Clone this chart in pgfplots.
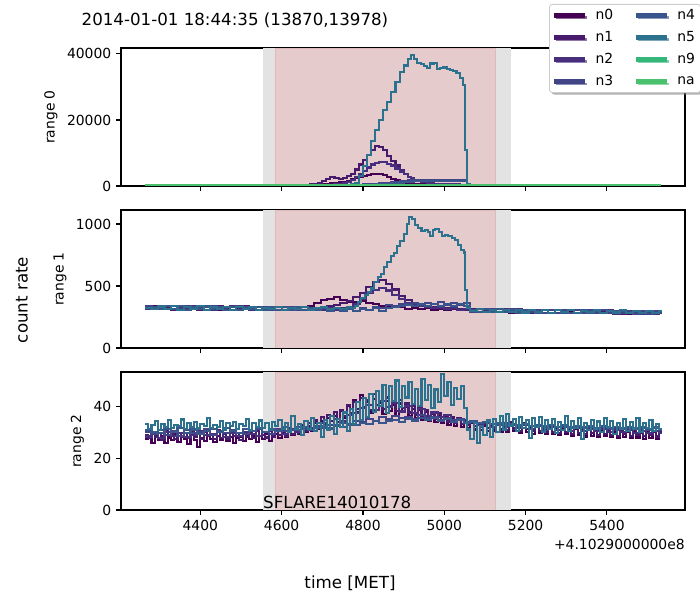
\documentclass[border=0pt]{standalone}
\usepackage{pgfplots}
\pgfplotsset{compat=1.18}
\usepackage{pgfplotstable}
\usepackage{fontspec}
\setmainfont{DejaVu Sans}
\usetikzlibrary{shadows}

\definecolor{cn0}{HTML}{440154}
\definecolor{cn1}{HTML}{481A6C}
\definecolor{cn2}{HTML}{472F7D}
\definecolor{cn3}{HTML}{414487}
\definecolor{cn4}{HTML}{39568C}
\definecolor{cn5}{HTML}{2C728E}
\definecolor{cn9}{HTML}{35B779}
\definecolor{cna}{HTML}{4AC16D}
\definecolor{shadegray}{HTML}{E3E3E3}
\definecolor{shadepink}{HTML}{E6CBCD}
\definecolor{pinkedge}{HTML}{E0B9BB}
\definecolor{legframe}{HTML}{CCCCCC}

\pgfplotstableread{
t n0 n1 n2 n3 n4 n5
4265 150 200 150 150 150 200
4650 150 200 150 150 150 200
4660 150 300 150 150 150 200
4670 160 450 150 150 150 200
4680 200 700 160 150 150 200
4690 300 1000 180 150 150 200
4700 500 1400 220 150 150 200
4710 700 2000 300 150 150 200
4720 900 2700 400 160 150 220
4730 1000 2500 500 170 160 240
4740 1100 2100 600 180 160 260
4750 1300 2400 800 200 170 280
4760 1600 2900 1200 250 180 300
4770 2000 3600 1800 300 200 500
4780 2400 5000 2600 350 220 1000
4790 2800 6500 3500 400 250 3000
4800 3100 8000 4600 450 280 6000
4810 3400 9500 5600 500 320 9500
4820 3500 11000 6500 550 380 13500
4830 3600 12100 7100 650 450 17000
4840 3500 11800 7400 750 520 20000
4850 3200 10800 7200 850 600 23000
4860 2700 9200 6800 1000 700 25500
4870 2200 7600 6200 1150 800 28500
4880 1700 6200 5300 1300 900 31500
4890 1300 4800 4400 1450 1050 34500
4900 1000 3600 3500 1600 1200 36500
4910 800 2700 2700 1700 1300 38500
4918 700 2300 2400 1750 1350 39600
4926 650 1900 1950 1780 1380 38600
4934 550 1600 1600 1800 1400 37200
4942 500 1300 1300 1850 1420 36900
4950 480 1100 1100 1870 1450 36400
4958 420 900 900 1880 1480 35700
4966 400 700 800 1900 1500 37100
4974 380 600 700 1900 1500 37300
4982 350 500 650 1900 1500 35300
4990 330 450 600 1900 1500 35800
4998 320 420 550 1890 1490 35900
5006 310 400 520 1880 1480 35400
5014 300 380 500 1870 1470 35200
5022 290 370 480 1860 1460 34700
5030 280 360 460 1850 1450 34100
5038 270 350 440 1840 1440 32600
5046 260 340 420 1820 1420 30600
5052 250 330 400 1800 1400 11000
5056 200 250 200 200 200 600
5062 150 200 150 150 150 200
5533 150 200 150 150 150 200
}\topdata

\pgfplotstableread{
t n0 n1 n2 n3 n4
4264 318 334 312 338 326
4280 335 314 330 316 334
4296 312 340 318 333 311
4312 331 320 338 313 337
4328 339 309 315 336 318
4344 308 336 333 314 340
4360 328 316 311 339 309
4376 315 338 335 317 331
4392 336 306 313 334 316
4408 305 331 336 310 335
4424 330 311 309 337 312
4440 310 335 332 312 333
4456 334 307 314 331 310
4472 307 333 337 309 334
4488 327 312 310 335 308
4504 313 336 331 311 330
4520 332 305 308 332 313
4536 304 330 333 308 332
4552 326 309 306 334 307
4568 309 334 329 306 329
4584 330 306 310 330 310
4600 303 328 331 307 331
4616 325 308 305 329 306
4632 306 331 327 304 327
4648 327 304 309 328 308
4664 338 318 304 306 326
4680 360 310 322 303 305
4696 384 326 306 324 323
4712 398 338 324 304 302
4728 408 350 305 322 321
4744 390 366 326 303 301
4760 374 382 334 320 318
4776 368 408 356 302 300
4792 378 442 394 319 317
4808 360 490 440 306 303
4824 352 534 470 330 320
4840 342 548 484 322 302
4856 338 516 464 344 326
4872 328 472 426 340 334
4888 330 422 394 358 336
4904 318 384 366 352 348
4920 322 356 350 366 342
4936 312 344 336 350 356
4952 320 330 334 366 342
4968 310 328 322 352 358
4984 318 320 326 368 340
5000 308 322 314 350 356
5016 316 312 320 364 338
5032 306 316 310 348 354
5048 314 306 315 362 340
5064 296 314 302 292 310
5080 312 294 316 312 289
5096 291 311 297 290 313
5112 310 290 314 311 292
5128 289 313 292 288 311
5144 308 287 311 309 288
5160 286 310 290 313 309
5176 307 288 312 286 287
5192 285 309 288 310 308
5208 306 284 310 287 306
5224 287 307 286 308 286
5240 304 283 309 284 307
5256 283 306 285 307 284
5272 303 285 307 283 305
5288 282 305 283 306 285
5304 302 281 306 284 304
5320 280 304 282 305 283
5336 301 282 305 281 303
5352 281 303 280 304 282
5368 300 279 304 282 302
5384 279 302 281 303 280
5400 299 280 303 279 301
5416 280 301 278 302 281
5432 298 278 302 280 300
5448 277 300 279 301 279
5464 297 279 300 278 299
5480 278 299 277 300 280
5496 296 277 299 278 298
5512 279 298 278 299 279
5528 295 280 297 279 297
5536 295 280 297 279 297
}\middata

\pgfplotstableread{
t n2 n3 n4
4264 28.5 30.2 31.0
4280 29.6 29.5 30.4
4296 28.0 31.0 29.8
4312 30.3 29.1 31.5
4328 28.7 30.6 30.2
4344 29.9 28.8 31.8
4360 28.4 30.9 30.0
4376 29.2 29.7 31.2
4392 30.5 30.1 29.6
4408 28.9 31.3 30.8
4424 29.4 29.2 31.4
4440 30.8 30.5 30.3
4456 28.3 29.8 31.9
4472 29.7 31.1 30.5
4488 28.6 30.0 29.9
4504 30.1 29.4 31.3
4520 29.3 30.8 30.6
4536 28.8 31.6 31.7
4552 30.4 30.2 30.1
4568 29.6 29.6 31.2
4584 30.9 31.4 30.7
4600 29.5 30.7 32.0
4616 31.2 31.0 31.1
4632 30.4 32.2 30.9
4648 32.0 31.5 32.3
4664 31.6 30.9 31.0
4680 32.7 32.6 31.8
4696 33.9 31.8 32.5
4712 33.1 33.0 31.6
4728 35.4 32.4 32.9
4744 34.6 33.6 32.2
4760 36.8 33.1 33.4
4776 37.5 34.5 32.8
4792 39.6 34.0 33.7
4808 40.8 35.2 33.3
4824 38.9 34.6 34.4
4840 42.3 35.9 33.9
4856 40.1 35.1 34.6
4872 41.6 36.3 35.0
4888 38.2 35.5 34.2
4904 40.4 36.0 35.3
4920 37.6 35.4 34.7
4936 39.3 36.8 35.5
4952 36.5 35.8 34.9
4968 37.8 36.2 35.6
4984 35.9 35.0 34.5
5000 36.7 35.6 35.2
5016 34.4 34.8 34.1
5032 35.2 35.3 34.8
5048 33.6 34.2 33.9
5064 34.5 34.6 34.3
5080 32.9 33.7 33.6
5096 33.8 34.1 34.0
5112 32.2 33.5 33.2
5128 33.4 32.9 33.7
5144 32.0 33.6 32.9
5160 33.1 33.0 33.4
5176 31.7 32.5 32.8
5192 32.8 33.2 33.3
5208 31.5 32.4 32.6
5224 32.6 33.0 33.1
5240 31.2 32.2 32.4
5256 32.3 32.8 33.0
5272 31.0 32.1 32.3
5288 32.0 32.7 32.9
5304 30.8 31.9 32.2
5320 31.9 32.5 32.7
5336 30.6 31.8 32.0
5352 31.6 32.3 32.6
5368 30.5 31.6 31.9
5384 31.4 32.2 32.4
5400 30.3 31.5 31.8
5416 31.2 32.0 32.3
5432 30.1 31.4 31.7
5448 31.0 31.9 32.2
5464 29.9 31.3 31.6
5480 30.8 31.8 32.1
5496 29.8 31.2 31.5
5512 30.6 31.7 32.0
5528 29.7 31.1 31.4
5536 29.7 31.1 31.4
}\botdataA

\pgfplotstableread{
t n0 n1 n5
4264 27.4 29.1 33.2
4272 28.6 27.8 31.5
4280 26.1 30.2 32.8
4288 29.0 28.5 34.6
4296 27.2 29.7 31.0
4304 28.8 27.3 33.5
4312 25.9 30.6 32.1
4320 28.1 28.9 34.9
4328 27.0 29.4 31.7
4336 29.3 27.6 33.0
4344 26.5 30.0 32.4
4352 28.3 28.2 35.1
4360 27.7 29.8 31.3
4368 25.6 27.9 33.8
4376 28.9 30.7 32.0
4384 27.3 28.4 34.2
4392 24.6 29.3 31.6
4400 28.0 27.5 33.4
4408 26.8 30.4 32.7
4416 29.1 28.6 35.8
4424 27.5 29.5 31.9
4432 26.2 27.7 33.1
4440 28.7 30.9 32.3
4448 27.1 28.0 34.4
4456 29.4 29.6 31.2
4464 26.7 27.4 33.7
4472 28.2 30.3 32.5
4480 25.8 28.7 34.0
4488 27.9 29.9 31.4
4496 28.5 27.2 33.3
4504 26.9 30.1 32.6
4512 29.2 28.3 35.4
4520 27.4 29.7 31.1
4528 28.6 27.9 33.9
4536 26.3 30.5 32.2
4544 28.8 28.8 34.7
4552 27.6 29.2 31.8
4560 29.5 28.1 33.6
4568 26.8 30.8 30.9
4576 28.4 28.5 34.1
4584 29.6 31.0 32.4
4592 27.8 29.2 35.0
4600 30.1 30.7 31.5
4608 28.2 28.6 33.8
4616 30.7 31.8 30.2
4624 28.9 29.4 36.3
4632 31.2 32.1 31.6
4640 29.5 30.0 33.2
4648 31.8 32.9 29.1
4656 30.2 30.8 34.5
4664 32.5 33.6 31.4
4672 30.6 31.4 35.8
4680 33.8 34.7 30.6
4688 31.5 32.6 33.7
4696 34.6 35.9 28.4
4704 32.3 33.2 34.9
4712 35.7 36.8 31.0
4720 33.1 34.5 36.6
4728 36.4 37.9 29.3
4736 34.2 35.3 35.2
4744 38.5 38.6 32.1
4752 35.6 36.4 37.8
4760 40.2 40.8 30.5
4768 36.9 37.7 39.2
4776 42.8 41.9 33.4
4784 38.1 39.3 41.7
4792 44.6 43.5 35.0
4800 39.6 40.1 43.5
4808 41.9 42.7 36.2
4816 37.8 38.9 44.8
4824 43.2 44.8 38.1
4832 38.7 40.6 46.3
4840 41.5 42.2 40.4
4848 37.2 39.1 48.5
4856 42.4 43.6 37.6
4864 38.5 40.3 47.9
4872 40.9 41.5 42.2
4880 36.6 38.4 50.2
4888 41.3 42.8 39.8
4896 37.9 39.6 48.1
4904 40.1 41.3 43.6
4912 36.4 37.8 49.7
4920 39.2 40.5 41.2
4928 35.7 37.0 46.9
4936 38.8 39.7 40.3
4944 35.1 36.4 50.8
4952 37.9 38.6 42.5
4960 34.6 35.8 48.3
4968 37.3 38.1 39.6
4976 34.0 35.2 46.7
4984 36.5 37.4 41.8
4992 33.6 34.9 52.8
5000 36.0 36.8 44.1
5008 33.1 34.3 49.6
5016 35.4 36.1 40.7
5024 32.7 33.9 47.4
5032 34.9 35.5 42.9
5040 32.2 33.4 48.2
5048 34.1 34.8 39.4
5056 31.8 33.0 31.2
5064 33.6 34.4 27.5
5072 31.2 32.7 33.9
5080 33.0 33.8 25.8
5088 30.9 32.1 32.6
5096 32.7 33.5 29.0
5104 30.5 31.8 34.7
5112 32.4 33.2 28.2
5120 30.8 31.5 35.3
5128 32.9 33.6 30.1
5136 30.3 31.2 36.4
5144 32.5 33.3 31.2
5152 30.1 31.0 37.1
5160 33.1 34.1 32.6
5168 30.7 31.6 35.4
5176 32.2 33.0 30.8
5184 29.9 30.8 36.2
5192 32.8 33.7 31.9
5200 30.4 31.3 34.8
5208 31.9 32.6 27.9
5216 29.6 30.5 35.7
5224 32.3 33.1 32.0
5232 29.8 30.7 36.0
5240 31.6 32.4 30.4
5248 29.3 30.2 34.9
5256 32.0 32.8 31.5
5264 29.5 30.4 35.3
5272 31.4 32.2 29.7
5280 28.9 29.8 34.2
5288 31.7 32.5 31.1
5296 29.4 30.3 36.6
5304 31.2 32.0 30.6
5312 28.7 29.6 34.5
5320 31.5 32.3 31.8
5328 29.0 29.9 35.6
5336 30.9 31.8 27.6
5344 28.5 29.4 33.9
5352 31.3 32.1 30.9
5360 28.8 29.7 35.0
5368 30.6 31.5 31.4
5376 28.3 29.2 34.3
5384 31.0 31.9 30.2
5392 28.6 29.5 35.8
5400 30.8 31.6 32.1
5408 28.2 29.1 34.6
5416 30.4 31.3 29.5
5424 27.9 28.8 33.7
5432 30.7 31.4 31.3
5440 28.4 29.3 35.2
5448 30.2 31.0 30.7
5456 27.8 28.7 34.0
5464 30.5 31.2 31.6
5472 28.1 29.0 35.5
5480 30.0 30.9 30.1
5488 27.6 28.6 33.8
5496 30.3 31.1 31.9
5504 28.0 28.9 34.8
5512 30.1 30.8 30.5
5520 27.7 28.5 33.5
5528 29.8 30.6 31.4
5536 29.8 30.6 31.4
}\botdataB

\pgfplotsset{
  panel/.style={
    scale only axis, width=406.08bp, height=99.36bp,
    xmin=4205, xmax=5592, ymin=0,
    xtick={4400,4600,4800,5000,5200,5400},
    scaled x ticks=false, scaled y ticks=false,
    /pgf/number format/1000 sep={},
    /pgf/number format/assume math mode=true,
    tick align=outside, xtick pos=lower, ytick pos=left,
    major tick length=3.5bp,
    tick style={black, line width=0.8bp},
    axis line style={line width=0.8bp},
    ticklabel style={font=\fontsize{10bp}{12bp}\selectfont},
    label style={font=\fontsize{10bp}{12bp}\selectfont},
    every axis plot/.append style={const plot, line width=1.5bp, mark=none},
    anchor=south west,
  },
}

\begin{document}
\begin{tikzpicture}
\path[use as bounding box] (0,0) rectangle (504bp,432bp);

% ---------- top panel ----------
\begin{axis}[panel, at={(87.12bp,298.08bp)}, ymax=41800,
  ytick={0,20000,40000}, xticklabels={}, ylabel={range 0},
  legend columns=4, transpose legend,
  legend style={at={(0.759,1.319)}, anchor=north west,
    font=\fontsize{10bp}{12bp}\selectfont,
    draw=legframe, line width=0.6bp, rounded corners=2bp, fill=white,
    drop shadow={shadow xshift=1.5bp, shadow yshift=-1.5bp, opacity=0.6, fill=gray},
    column sep=4.2bp, row sep=3bp, inner xsep=2bp, inner ysep=1.5bp,
    /tikz/every even column/.append style={column sep=13bp}},
  legend cell align=left,
  legend image code/.code={\draw[line width=3bp] (0bp,0bp) -- (22bp,0bp);},
]
\fill[shadegray] (axis cs:4554,0) rectangle (axis cs:5165,41800);
\fill[shadepink, draw=pinkedge, line width=0.5bp] (axis cs:4584,0) rectangle (axis cs:5125,41800);
\addplot[cn0] table[x=t,y=n0] {\topdata};
\addplot[cn1] table[x=t,y=n1] {\topdata};
\addplot[cn2] table[x=t,y=n2] {\topdata};
\addplot[cn3] table[x=t,y=n3] {\topdata};
\addplot[cn4] table[x=t,y=n4] {\topdata};
\addplot[cn5] table[x=t,y=n5] {\topdata};
\addplot[cn9] coordinates {(4265,300) (5533,300)};
\addplot[cna] coordinates {(4265,300) (5533,300)};
\legend{n0,n1,n2,n3,n4,n5,n9,na}
\end{axis}

% ---------- middle panel ----------
\begin{axis}[panel, at={(87.12bp,181.44bp)}, ymax=1113,
  ytick={0,500,1000}, xticklabels={}, ylabel={range 1}]
\fill[shadegray] (axis cs:4554,0) rectangle (axis cs:5165,1113);
\fill[shadepink, draw=pinkedge, line width=0.5bp] (axis cs:4584,0) rectangle (axis cs:5125,1113);
\addplot[cn0] table[x=t,y=n0] {\middata};
\addplot[cn1] table[x=t,y=n1] {\middata};
\addplot[cn2] table[x=t,y=n2] {\middata};
\addplot[cn3] table[x=t,y=n3] {\middata};
\addplot[cn4] table[x=t,y=n4] {\middata};
\addplot[cn5] coordinates {
(4264,326) (4280,312) (4296,335) (4312,318) (4328,338) (4344,310) (4360,330)
(4376,314) (4392,336) (4408,309) (4424,328) (4440,316) (4456,333) (4472,308)
(4488,327) (4504,315) (4520,332) (4536,307) (4552,325) (4568,313) (4584,331)
(4600,306) (4616,324) (4632,318) (4648,329) (4664,310) (4680,322) (4696,330)
(4712,312) (4728,326) (4744,316) (4760,328) (4770,325)
(4780,340) (4788,370) (4796,400) (4804,430) (4812,455) (4820,480) (4828,530)
(4836,575) (4844,600) (4852,650) (4860,690) (4868,740) (4876,765) (4884,820)
(4892,860) (4900,920) (4908,1000) (4914,1060) (4920,1040) (4928,990) (4936,965)
(4944,945) (4952,955) (4960,935) (4966,900) (4972,950) (4978,960) (4986,935)
(4994,905) (5002,915) (5010,900) (5018,885) (5026,870) (5034,830) (5042,790)
(5048,770) (5052,470) (5056,320) (5064,300)
(5080,312) (5096,290) (5112,309) (5128,288) (5144,306) (5160,292) (5176,310)
(5192,286) (5208,305) (5224,289) (5240,307) (5256,284) (5272,303) (5288,288)
(5304,305) (5320,283) (5336,302) (5352,287) (5368,304) (5384,282) (5400,300)
(5416,286) (5432,303) (5448,281) (5464,299) (5480,285) (5496,302) (5512,280)
(5528,296) (5536,296)};
\end{axis}

% ---------- bottom panel ----------
\begin{axis}[panel, at={(87.12bp,64.8bp)}, ymax=53.5,
  ytick={0,20,40}, ylabel={range 2}]
\fill[shadegray] (axis cs:4554,0) rectangle (axis cs:5165,53.5);
\fill[shadepink, draw=pinkedge, line width=0.5bp] (axis cs:4584,0) rectangle (axis cs:5125,53.5);
\addplot[cn0] table[x=t,y=n0] {\botdataB};
\addplot[cn1] table[x=t,y=n1] {\botdataB};
\addplot[cn2] table[x=t,y=n2] {\botdataA};
\addplot[cn3] table[x=t,y=n3] {\botdataA};
\addplot[cn4] table[x=t,y=n4] {\botdataA};
\addplot[cn5] table[x=t,y=n5] {\botdataB};
\node[anchor=base west, inner sep=0pt, font=\fontsize{12bp}{14bp}\selectfont]
  at (axis cs:4554,0.5) {SFLARE14010178};
\end{axis}

% ---------- figure texts ----------
\node[font=\fontsize{12bp}{14bp}\selectfont] at (169.2bp,417.6bp) {2014-01-01 18:44:35 (13870,13978)};
\node[font=\fontsize{12bp}{14bp}\selectfont, rotate=90] at (15.84bp,216bp) {count rate};
\node[font=\fontsize{12bp}{14bp}\selectfont] at (252bp,12.24bp) {time [MET]};
\node[font=\fontsize{10bp}{12bp}\selectfont, anchor=east, inner sep=0pt] at (493.2bp,40.32bp) {+4.1029000000e8};
\end{tikzpicture}
\end{document}
